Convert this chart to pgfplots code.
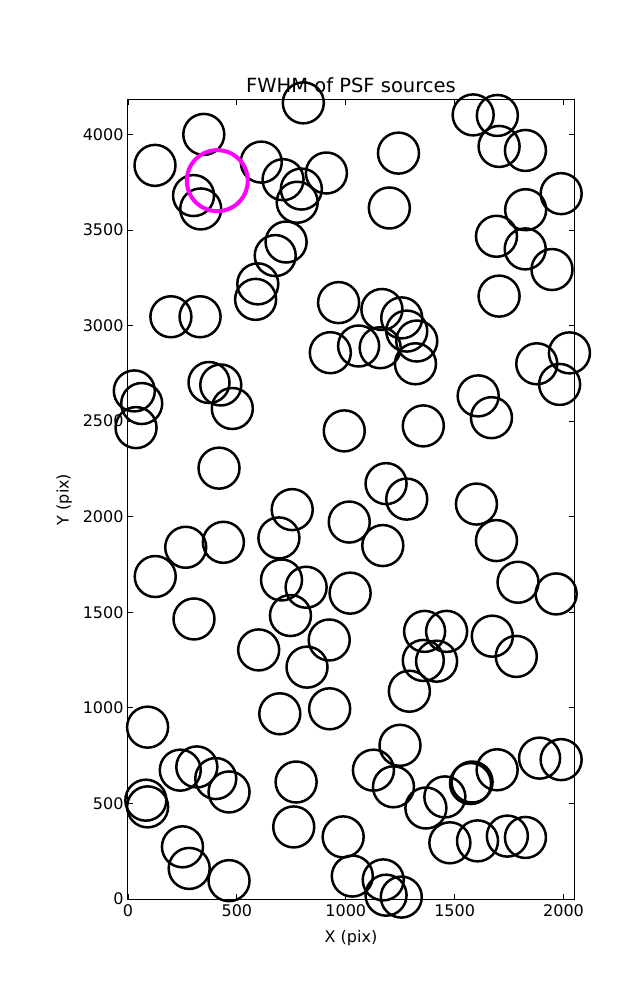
\documentclass[border=0pt]{standalone}
\usepackage{fontspec}
\setmainfont{DejaVu Sans}
\usepackage{pgfplots}
\usepackage{pgfplotstable}
\pgfplotsset{compat=1.18}
\definecolor{mpmagenta}{rgb}{1,0,1}

% source positions (pix)
\pgfplotstableread{
x y
805 4165
348 4000
124 3838
301 3680
334 3610
612 3855
712 3763
796 3714
777 3645
911 3798
726 3437
676 3366
596 3218
586 3137
197 3046
331 3046
967 3120
929 2858
1585 4102
1696 4099
1704 3937
1825 3916
1242 3902
1200 3615
1989 3690
1826 3606
1692 3467
1824 3401
1947 3293
1704 3154
2027 2857
1877 2800
1166 3084
1257 3040
1280 2971
1326 2919
1059 2893
1158 2884
1320 2800
29 2658
63 2592
37 2466
372 2702
426 2689
479 2566
418 2254
993 2449
754 2037
693 1889
438 1866
265 1840
125 1687
705 1669
818 1631
746 1483
303 1465
1016 1972
1020 1600
924 1355
600 1303
1982 2692
1356 2475
1608 2632
1669 2518
1185 2173
1280 2092
1600 2066
1170 1849
1692 1875
1791 1657
1966 1596
1362 1400
1463 1400
1673 1375
822 1213
697 969
926 995
90 899
240 674
316 691
403 630
464 560
82 517
90 482
772 612
761 377
250 273
281 160
464 96
988 325
1030 120
1783 1269
1356 1248
1417 1244
1292 1087
1249 804
1127 674
1219 587
1368 476
1455 534
1573 604
1580 612
1695 676
1890 737
1989 729
1478 294
1605 304
1742 329
1825 322
1172 100
1185 20
1255 10
}\srcs

\begin{document}
\begin{tikzpicture}
\path[use as bounding box] (-128bp,-101bp) rectangle (509bp,899bp);
\begin{axis}[
    scale only axis,
    width=446bp, height=799bp,
    xmin=0, xmax=2048,
    ymin=0, ymax=4180,
    xtick={0,500,...,2000},
    ytick={0,500,...,4000},
    tick align=inside,
    xtick pos=both, ytick pos=both,
    major tick length=5bp,
    tick style={black, line width=0.8bp},
    axis line style={line width=1bp},
    font=\fontsize{16bp}{19bp}\selectfont,
    /pgf/number format/assume math mode=true,
    /pgf/number format/1000 sep={},
    xticklabel style={yshift=-2bp},
    yticklabel style={xshift=-1bp},
    title style={font=\fontsize{19.5bp}{23bp}\selectfont, yshift=-2bp},
    title={FWHM of PSF sources},
    xlabel={X (pix)},
    ylabel={Y (pix)},
    xlabel style={yshift=-7bp},
    ylabel style={yshift=4bp},
]
\addplot[only marks, black, mark=o, mark size=20.5bp,
    mark options={line width=2.5bp}] table {\srcs};
\addplot[only marks, mpmagenta, mark=o, mark size=30.5bp,
    mark options={line width=4bp}] coordinates {(410,3758)};
\end{axis}
\end{tikzpicture}
\end{document}
